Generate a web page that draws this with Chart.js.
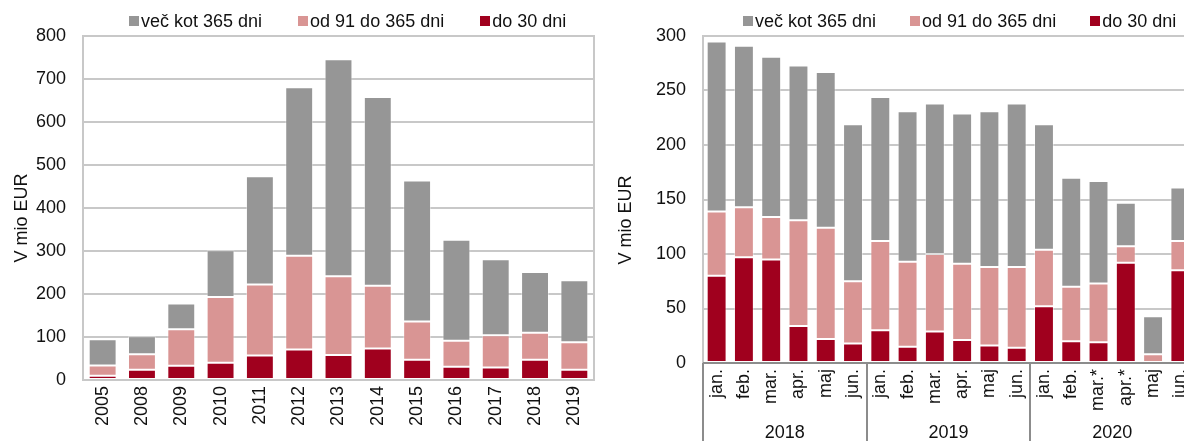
<!DOCTYPE html>
<html>
<head>
<meta charset="utf-8">
<script src="https://cdn.jsdelivr.net/npm/chart.js@4.4.1/dist/chart.umd.min.js"></script>
<style>
  html, body { margin: 0; padding: 0; width: 1184px; height: 441px; overflow: hidden; background: #fff; }
  body { position: relative; font-family: 'Liberation Sans', Arial, sans-serif; }
  canvas { position: absolute; top: 0; }
  #left-chart { left: 0; }
  #right-chart { left: 600px; }
  .legend { position: absolute; top: 12px; display: flex; font-size: 18px; color: #111; white-space: nowrap; }
  .legend .item { display: flex; align-items: center; height: 18px; line-height: 18px; }
  .legend .box { width: 10px; height: 10px; margin-right: 2px; }
</style>
</head>
<body>
<canvas id="left-chart" width="600" height="441"></canvas>
<canvas id="right-chart" width="600" height="470"></canvas>
<div class="legend" id="left-legend" style="left:129px; gap:36px"></div>
<div class="legend" id="right-legend" style="left:743px; gap:34px"></div>
<script>
// series names (legend order) and colours
const seriesNames = ['več kot 365 dni', 'od 91 do 365 dni', 'do 30 dni'];
const seriesColors = ['#969696', '#d99594', '#a0001e'];

// yearly data (left chart)
const years = ['2005', '2008', '2009', '2010', '2011', '2012', '2013', '2014', '2015', '2016', '2017', '2018', '2019'];
const yearsDo30 = [10, 24, 33, 40, 57, 71, 58, 73, 47, 31, 29, 47, 24];
const yearsOd91 = [24, 36, 85, 153, 165, 218, 183, 146, 89, 60, 75, 63, 64];
const yearsVec365 = [61, 42, 60, 109, 252, 392, 505, 439, 328, 235, 177, 141, 144];

// monthly data (right chart)
const months = ['jan.', 'feb.', 'mar.', 'apr.', 'maj', 'jun.',
                'jan.', 'feb.', 'mar.', 'apr.', 'maj', 'jun.',
                'jan.', 'feb.', 'mar.*', 'apr.*', 'maj', 'jun.'];
const monthGroups = ['2018', '2019', '2020'];
const monthsDo30 = [80, 97, 95, 34, 22, 18, 30, 15, 29, 21, 16, 14, 52, 20, 19, 92, 0, 85];
const monthsOd91 = [59, 46, 39, 97, 102, 57, 82, 78, 71, 70, 72, 74, 52, 50, 54, 15, 8, 27];
const monthsVec365 = [156, 148, 147, 142, 143, 144, 132, 138, 138, 138, 143, 150, 115, 100, 94, 40, 35, 49];

const GRID = '#c8c8c8';
const AXIS = '#8c8c8c';
const TEXT = '#111';
const FONT = { family: "'Liberation Sans', Arial, sans-serif", size: 18 };

// legends
function buildLegend(id) {
  const el = document.getElementById(id);
  el.innerHTML = seriesNames.map((name, i) =>
    `<span class="item"><span class="box" style="background:${seriesColors[i]}"></span>${name}</span>`
  ).join('');
}
buildLegend('left-legend');
buildLegend('right-legend');

// frame, axis lines, y title, group labels
const extras = {
  id: 'extras',
  beforeDatasetsDraw(chart) {
    const { ctx, chartArea: a } = chart;
    ctx.save();
    ctx.strokeStyle = GRID;
    ctx.lineWidth = 2;
    ctx.strokeRect(a.left, a.top, a.right - a.left, a.bottom - a.top);
    ctx.restore();
  },
  afterDatasetsDraw(chart, args, opts) {
    const { ctx, chartArea: a, scales: { x } } = chart;
    ctx.save();
    ctx.fillStyle = TEXT;
    ctx.font = `${FONT.size}px ${FONT.family}`;

    // y axis title
    ctx.save();
    ctx.translate(opts.titleX, opts.titleY);
    ctx.rotate(-Math.PI / 2);
    ctx.textAlign = 'center';
    ctx.textBaseline = 'middle';
    ctx.fillText('V mio EUR', 0, 0);
    ctx.restore();

    if (opts.groups) {
      const half = (x.getPixelForValue(1) - x.getPixelForValue(0)) / 2;
      const edge = i => x.getPixelForValue(i) - half;
      const size = opts.groupSize;
      ctx.strokeStyle = AXIS;
      ctx.lineWidth = 2;
      ctx.beginPath();
      ctx.moveTo(a.left, a.bottom);
      ctx.lineTo(a.right, a.bottom);
      for (let g = 0; g <= opts.groups.length; g++) {
        const px = Math.round(edge(g * size));
        ctx.moveTo(px, a.bottom);
        ctx.lineTo(px, chart.height);
      }
      ctx.stroke();
      ctx.textAlign = 'center';
      ctx.textBaseline = 'middle';
      opts.groups.forEach((label, g) => {
        const cx = (edge(g * size) + edge((g + 1) * size)) / 2;
        ctx.fillText(label, cx, a.bottom + 70);
      });
    }
    ctx.restore();
  }
};

function makeChart(id, labels, do30, od91, vec365, cfg) {
  const data = [do30, od91, vec365];
  const names = [seriesNames[2], seriesNames[1], seriesNames[0]];
  const colors = [seriesColors[2], seriesColors[1], seriesColors[0]];
  return new Chart(document.getElementById(id), {
    type: 'bar',
    data: {
      labels: labels,
      datasets: data.map((d, i) => ({
        label: names[i],
        data: d,
        backgroundColor: colors[i],
        borderColor: 'rgba(255,255,255,0.4)',
        borderWidth: 1,
        borderSkipped: false,
        barPercentage: cfg.barPct,
        categoryPercentage: 1
      }))
    },
    options: {
      responsive: false,
      animation: false,
      devicePixelRatio: 1,
      layout: { padding: { top: 36, right: 6, left: 0, bottom: 0 } },
      plugins: {
        legend: { display: false },
        tooltip: { enabled: false },
        extras: cfg.extras
      },
      scales: {
        x: {
          stacked: true,
          offset: true,
          grid: { display: false, drawTicks: false },
          border: { display: false },
          ticks: { autoSkip: false, minRotation: 90, maxRotation: 90, padding: 6, color: TEXT, font: FONT },
          afterFit: s => { s.height = cfg.xHeight; s.paddingLeft = 0; s.paddingRight = 0; }
        },
        y: {
          stacked: true,
          min: 0,
          max: cfg.max,
          ticks: { stepSize: cfg.step, padding: 17, color: TEXT, font: FONT },
          grid: { color: GRID, lineWidth: 2, drawTicks: false },
          border: { display: false },
          afterFit: s => { s.width = cfg.yWidth; s.paddingTop = 0; s.paddingBottom = 0; }
        }
      }
    },
    plugins: [extras]
  });
}

makeChart('left-chart', years, yearsDo30, yearsOd91, yearsVec365, {
  max: 800, step: 100, yWidth: 83, xHeight: 61, barPct: 0.71,
  extras: { titleX: 22, titleY: 218 }
});

makeChart('right-chart', months, monthsDo30, monthsOd91, monthsVec365, {
  max: 300, step: 50, yWidth: 103, xHeight: 107, barPct: 0.73,
  extras: { titleX: 26, titleY: 220, groups: monthGroups, groupSize: 6 }
});
</script>
</body>
</html>
